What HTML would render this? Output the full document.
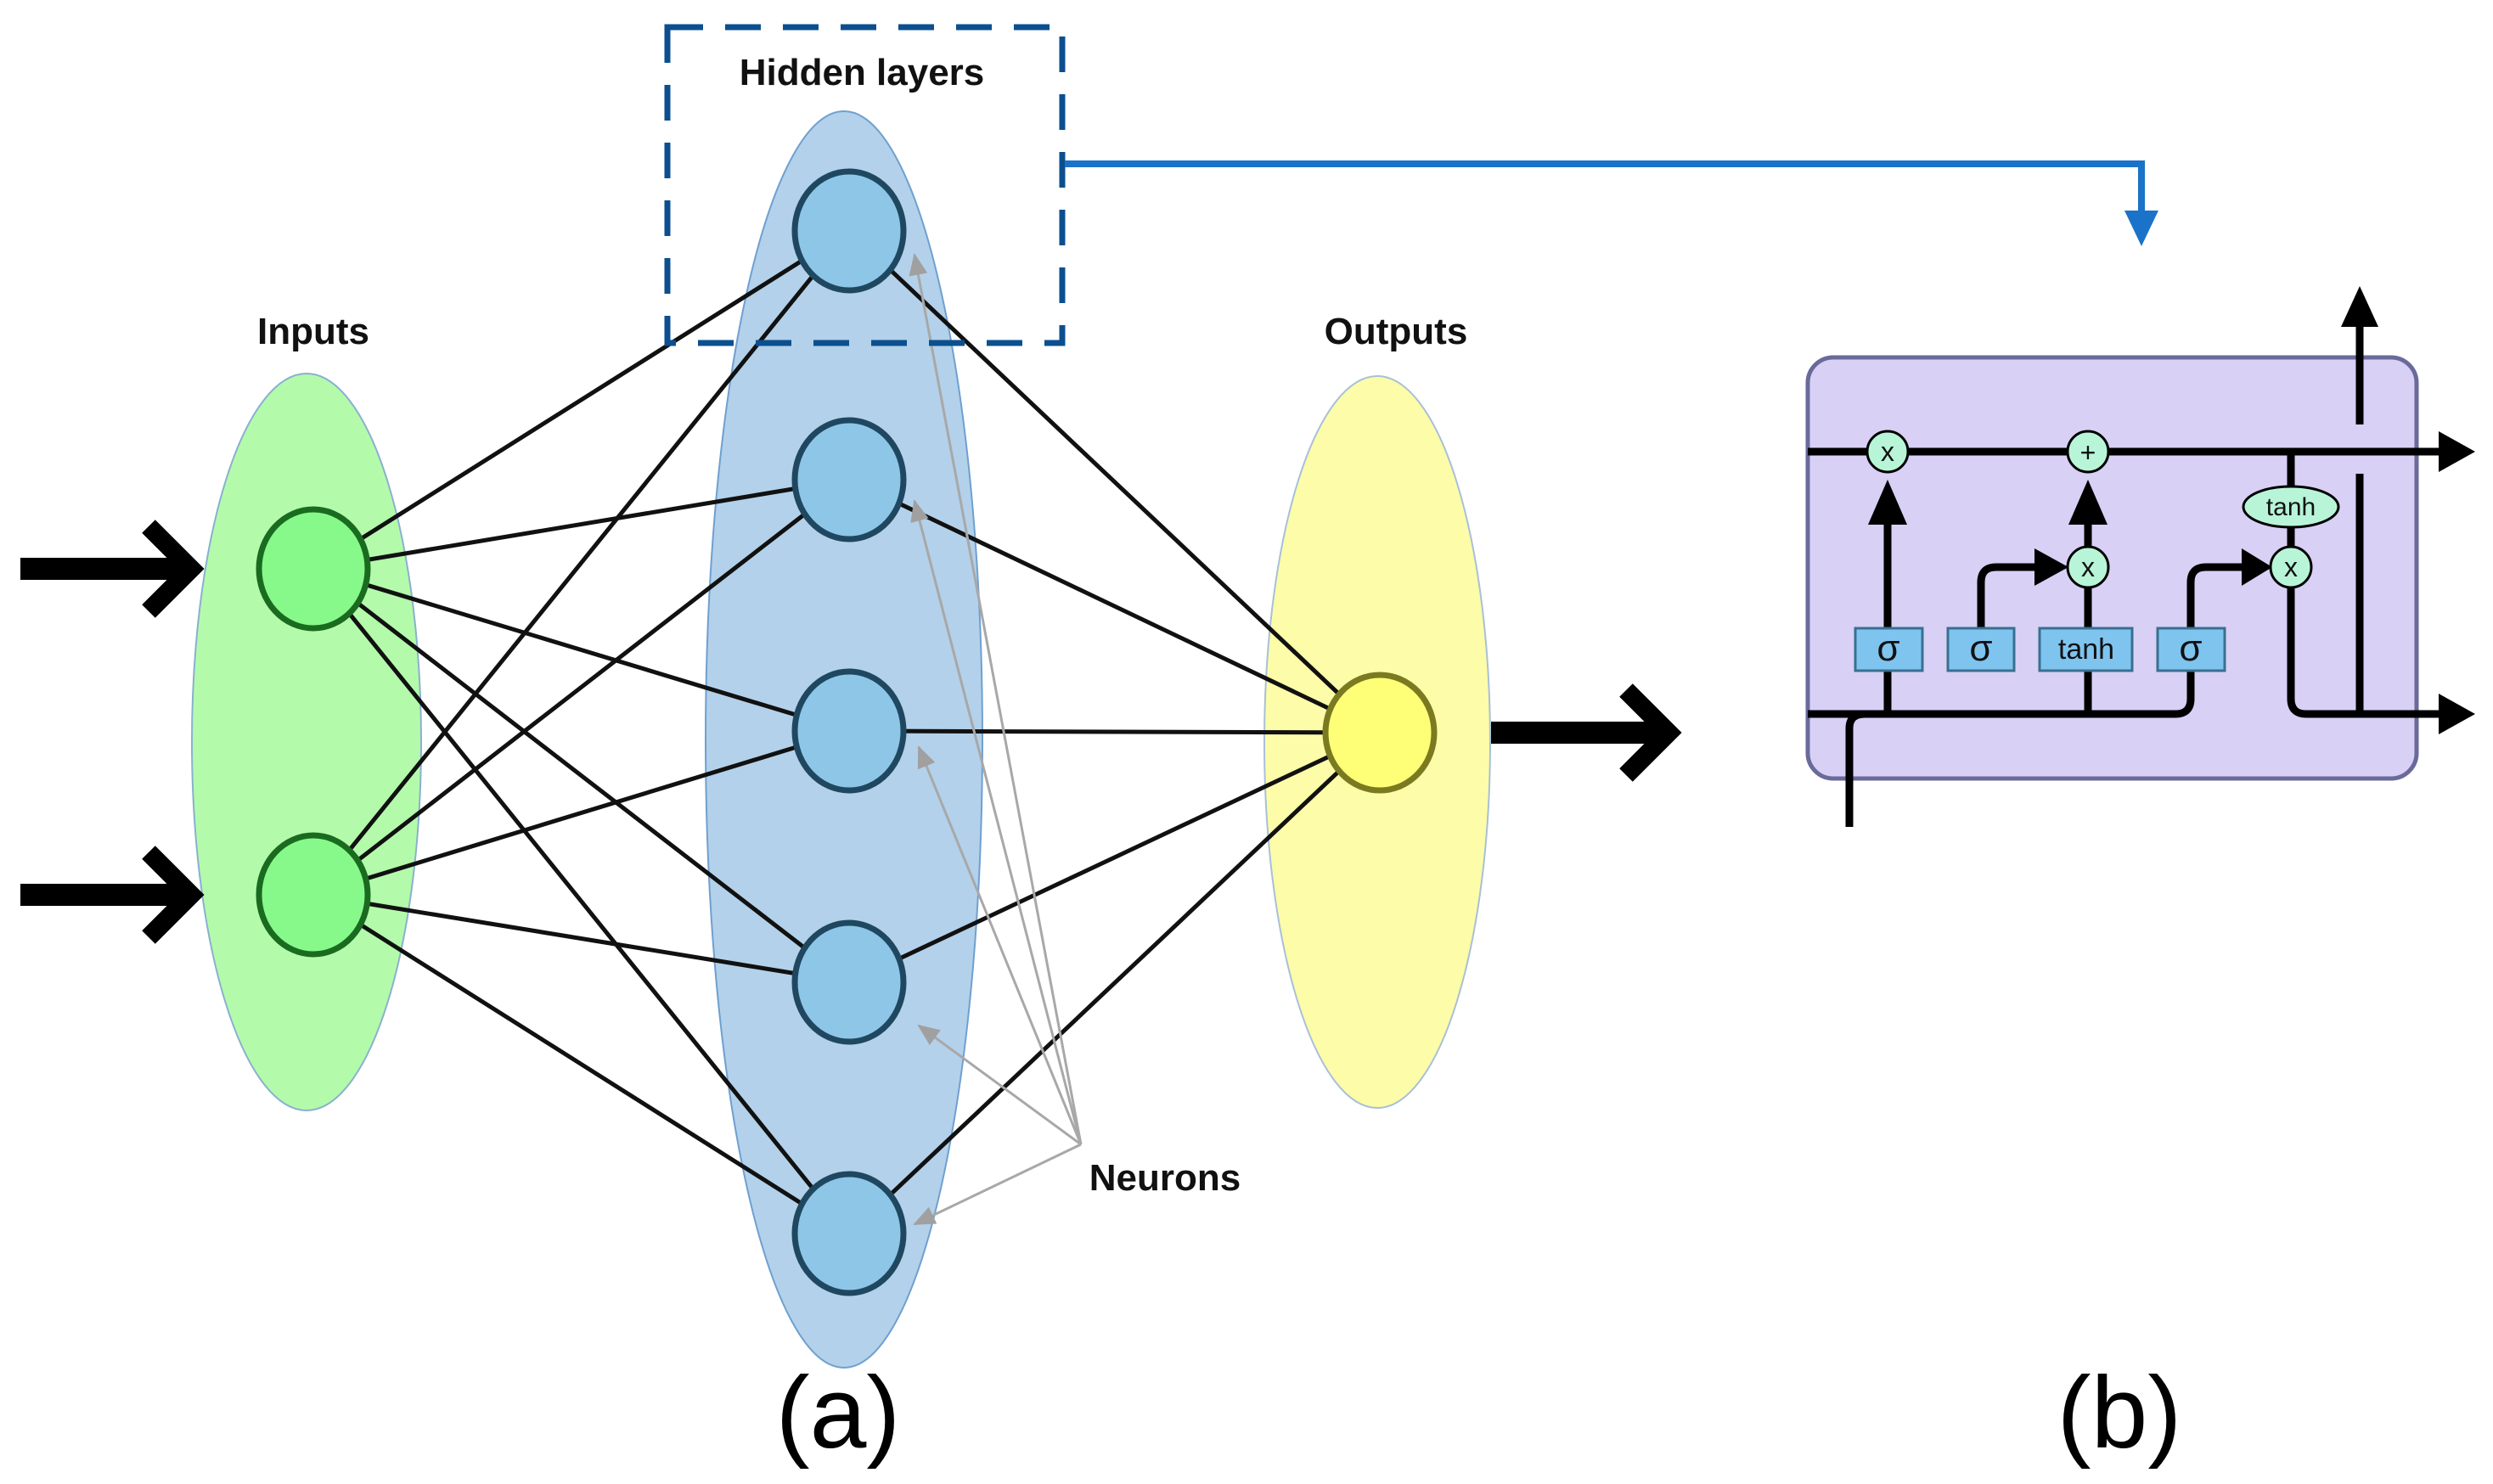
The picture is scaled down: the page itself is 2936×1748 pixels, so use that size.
<!DOCTYPE html>
<html><head><meta charset="utf-8"><style>
html,body{margin:0;padding:0;background:#fff;}
svg{display:block}
text{font-family:"Liberation Sans",sans-serif;}
</style></head><body>
<svg width="2936" height="1748" viewBox="0 0 2936 1748" xmlns="http://www.w3.org/2000/svg">
<defs>
<marker id="ga" markerWidth="26" markerHeight="22" refX="24" refY="11" orient="auto" markerUnits="userSpaceOnUse" viewBox="0 0 26 22"><path d="M0,0 L26,11 L0,22 z" fill="#a0a0a0"/></marker>
</defs>
<ellipse cx="361" cy="874" rx="135" ry="434" fill="#b3fbab" stroke="#8ab0d0" stroke-width="2"/>
<ellipse cx="994" cy="871" rx="163" ry="740" fill="#b3d1ea" stroke="#6fa0d0" stroke-width="2"/>
<ellipse cx="1622" cy="874" rx="133" ry="431" fill="#fdfca8" stroke="#a8c0d8" stroke-width="2"/>
<g stroke="#111" stroke-width="5">
<line x1="369" y1="670" x2="1000" y2="272"/><line x1="369" y1="670" x2="1000" y2="565"/><line x1="369" y1="670" x2="1000" y2="861"/><line x1="369" y1="670" x2="1000" y2="1157"/><line x1="369" y1="670" x2="1000" y2="1453"/>
<line x1="369" y1="1054" x2="1000" y2="272"/><line x1="369" y1="1054" x2="1000" y2="565"/><line x1="369" y1="1054" x2="1000" y2="861"/><line x1="369" y1="1054" x2="1000" y2="1157"/><line x1="369" y1="1054" x2="1000" y2="1453"/>
<line x1="1000" y1="272" x2="1625" y2="863"/><line x1="1000" y1="565" x2="1625" y2="863"/><line x1="1000" y1="861" x2="1625" y2="863"/><line x1="1000" y1="1157" x2="1625" y2="863"/><line x1="1000" y1="1453" x2="1625" y2="863"/>
</g>
<g stroke="#a8a8a8" stroke-width="3" marker-end="url(#ga)" fill="none">
<line x1="1273" y1="1348" x2="1077" y2="300"/><line x1="1273" y1="1348" x2="1077" y2="590"/><line x1="1273" y1="1348" x2="1082" y2="880"/><line x1="1273" y1="1348" x2="1082" y2="1208"/><line x1="1273" y1="1348" x2="1077" y2="1442"/>
</g>
<g fill="#86f98a" stroke="#1a6b1f" stroke-width="7"><ellipse cx="369" cy="670" rx="64" ry="70"/><ellipse cx="369" cy="1054" rx="64" ry="70"/></g>
<g fill="#8ec6e8" stroke="#1f4860" stroke-width="7">
<ellipse cx="1000" cy="272" rx="64" ry="70"/><ellipse cx="1000" cy="565" rx="64" ry="70"/><ellipse cx="1000" cy="861" rx="64" ry="70"/><ellipse cx="1000" cy="1157" rx="64" ry="70"/><ellipse cx="1000" cy="1453" rx="64" ry="70"/></g>
<ellipse cx="1625" cy="863" rx="64" ry="68" fill="#ffff77" stroke="#7a7a20" stroke-width="7"/>
<g stroke="#000" stroke-width="26" fill="none">
<line x1="24" y1="670" x2="220" y2="670"/><polyline points="175,620 225,670 175,720" stroke-width="22"/>
<line x1="24" y1="1054" x2="220" y2="1054"/><polyline points="175,1004 225,1054 175,1104" stroke-width="22"/>
<line x1="1756" y1="863" x2="1965" y2="863"/><polyline points="1915,813 1965,863 1915,913" stroke-width="22"/>
</g>
<rect x="786" y="32" width="465" height="372" fill="none" stroke="#0b4f8f" stroke-width="7" stroke-dasharray="42,26"/>
<polyline points="1254,193 2522,193 2522,250" fill="none" stroke="#1a73c9" stroke-width="8"/>
<path d="M2502,248 L2542,248 L2522,290 z" fill="#1a73c9"/>
<g font-weight="bold" font-size="44" text-anchor="middle" fill="#111">
<text x="1015" y="100">Hidden layers</text>
<text x="369" y="405">Inputs</text>
<text x="1644" y="405">Outputs</text>
<text x="1372" y="1402">Neurons</text>
</g>
<text x="987" y="1705" font-size="120" text-anchor="middle" fill="#000">(a)</text>
<text x="2496" y="1705" font-size="120" text-anchor="middle" fill="#000">(b)</text>
<!-- LSTM -->
<rect x="2129" y="421" width="717" height="496" rx="30" fill="#d8d0f5" stroke="#6a6a9a" stroke-width="5"/>
<g stroke="#000" stroke-width="9" fill="none">
<line x1="2129" y1="532" x2="2880" y2="532"/>
<path d="M2129,841 L2562,841 Q2580,841 2580,823 L2580,790"/>
<path d="M2178,974 L2178,858 Q2178,841 2196,841"/>
<line x1="2223" y1="841" x2="2223" y2="610"/>
<path d="M2333,740 L2333,686 Q2333,668 2351,668 L2400,668"/>
<line x1="2459" y1="841" x2="2459" y2="692"/>
<line x1="2459" y1="644" x2="2459" y2="610"/>
<path d="M2580,740 L2580,686 Q2580,668 2598,668 L2645,668"/>
<line x1="2698" y1="532" x2="2698" y2="644"/>
<path d="M2698,692 L2698,823 Q2698,841 2716,841 L2880,841"/>
<path d="M2779,841 L2779,558"/>
<line x1="2779" y1="500" x2="2779" y2="375"/>
</g>
<g fill="#000">
<path d="M2200,618 L2246,618 L2223,565 z"/>
<path d="M2436,618 L2482,618 L2459,565 z"/>
<path d="M2396,646 L2396,690 L2436,668 z"/>
<path d="M2640,646 L2640,690 L2676,668 z"/>
<path d="M2757,385 L2801,385 L2779,337 z"/>
<path d="M2872,508 L2872,556 L2915,532 z"/>
<path d="M2872,817 L2872,865 L2915,841 z"/>
</g>
<g fill="#b8f5d8" stroke="#000" stroke-width="3">
<circle cx="2223" cy="532" r="24"/><circle cx="2459" cy="532" r="24"/><circle cx="2459" cy="668" r="24"/><circle cx="2698" cy="668" r="24"/>
<ellipse cx="2698" cy="597" rx="56" ry="24"/>
</g>
<g fill="#7ec4ef" stroke="#3a6f90" stroke-width="3">
<rect x="2185" y="740" width="79" height="50"/><rect x="2294" y="740" width="78" height="50"/><rect x="2402" y="740" width="109" height="50"/><rect x="2541" y="740" width="79" height="50"/>
</g>
<g font-size="32" text-anchor="middle" fill="#111">
<text x="2223" y="543">x</text><text x="2459" y="544">+</text><text x="2459" y="679">x</text><text x="2698" y="679">x</text>
<text x="2698" y="607" font-size="30">tanh</text>
<text x="2224" y="778" font-size="44">σ</text><text x="2333" y="778" font-size="44">σ</text><text x="2457" y="776" font-size="34">tanh</text><text x="2580" y="778" font-size="44">σ</text>
</g>
</svg>
</body></html>
